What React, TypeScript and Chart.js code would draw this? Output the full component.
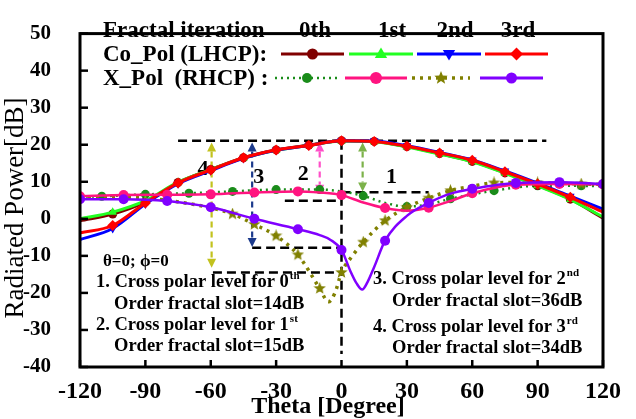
import React, { useEffect, useRef } from "react";
import { Chart, registerables } from "chart.js";

Chart.register(...registerables);

const FONT = '"Liberation Serif", "DejaVu Serif", "Times New Roman", serif';

// ---------- axis ranges ----------
const thetaMin = -120;
const thetaMax = 120;
const thetaStep = 30;
const dbMin = -40;
const dbMax = 50;
const dbStep = 10;

// ---------- Co-pol (LHCP) ----------
const coTheta = [-120, -105, -90, -75, -60, -45, -30, -15, 0, 15, 30, 45, 60, 75, 90, 105, 120];
const co0th = [-0.5, 1.3, 4.6, 9.8, 13.3, 16.5, 18.6, 19.9, 21.1, 20.9, 19.5, 17.6, 15.5, 12.4, 9.0, 5.3, 0.2];
const co1st = [0.0, 1.8, 4.9, 9.9, 13.3, 16.4, 18.5, 19.8, 21.0, 20.8, 19.4, 17.5, 15.4, 12.3, 8.9, 5.2, 0.5];
const co2nd = [-5.6, -2.6, 4.0, 9.5, 13.0, 16.3, 18.5, 19.8, 21.1, 21.0, 19.7, 17.9, 15.9, 12.9, 9.6, 6.1, 2.6];
const co3rd = [-3.8, -1.8, 4.3, 9.7, 13.2, 16.5, 18.6, 19.8, 21.1, 20.9, 19.6, 17.8, 15.8, 12.7, 9.4, 5.8, 1.8];
const coMarkTheta = [-105, -90, -75, -60, -45, -30, -15, 0, 15, 30, 45, 60, 75, 90, 105];

// ---------- X-pol (RHCP) ----------
const xp0Theta = [-120, -110, -90, -70, -50, -30, -10, 0, 10, 20, 30, 40, 50, 70, 90, 110, 120];
const xp0Db = [6.0, 6.1, 6.6, 6.9, 7.4, 7.9, 7.9, 7.4, 6.2, 4.3, 3.3, 3.9, 5.4, 7.6, 8.9, 8.9, 8.8];
const xp0MarkTheta = [-110, -90, -70, -50, -30, -10, 10, 30, 50, 70, 90, 110];

const xp1Theta = [-120, -100, -80, -60, -40, -20, -10, 0, 10, 20, 30, 40, 50, 60, 80, 100, 120];
const xp1Db = [6.1, 6.4, 6.5, 6.6, 7.1, 7.4, 7.1, 6.4, 4.4, 2.9, 2.2, 3.0, 4.8, 6.9, 9.2, 9.4, 9.3];
const xp1MarkTheta = [-120, -100, -80, -60, -40, -20, 0, 20, 40, 60, 80, 100, 120];

const xp2Theta = [-120, -110, -100, -90, -80, -70, -60, -50, -40, -30, -20, -10, -6, -3, 0, 5, 10, 20, 30, 40, 50, 60, 70, 80, 90, 100, 110, 120];
const xp2Db = [5.8, 5.8, 5.8, 5.6, 5.0, 4.1, 3.0, 1.3, -1.5, -4.6, -9.7, -18.8, -22.4, -20.0, -14.5, -10.0, -6.3, -0.5, 3.1, 5.6, 7.6, 8.8, 9.7, 9.8, 9.7, 9.6, 9.4, 9.3];
const xp2MarkTheta = [-50, -40, -30, -20, -10, 0, 10, 20, 30, 40, 50, 70, 90, 110];

const xp3Theta = [-120, -100, -80, -60, -40, -20, -10, -5, 0, 4, 7, 9.5, 12, 15, 20, 30, 40, 50, 60, 80, 100, 120];
const xp3Db = [5.3, 5.3, 4.8, 3.1, 0.0, -2.8, -4.4, -5.7, -8.4, -14.0, -17.5, -19.1, -17.0, -13.0, -5.9, 0.8, 4.3, 6.8, 8.1, 9.7, 9.9, 9.4];
const xp3MarkTheta = [-120, -100, -80, -60, -40, -20, 0, 20, 40, 60, 80, 100, 120];

// ---------- annotation values (data units) ----------
const hLineDb = [21.1, 7.2, 4.9, -7.8, -14.5];
const hLineFrom = [-75, 0, -26, -41, -59];
const hLineTo = [94, 40, 0, 0, 0];
const vLineTheta = 0;
const vLineTop = 21.1;
const vLineBottom = -36.5;
const arrowTheta = [9.7, -10, -41, -59.6];
const arrowTop = [20.6, 20.6, 20.6, 20.6];
const arrowBottom = [7.4, 6.8, -7.6, -13.2];
const arrowColor = ["#7cb24a", "#ff4fc8", "#1c3a8c", "#c2c21e"];
const arrowLabel = ["1", "2", "3", "4"];
const labelTheta = [23, -17.5, -38, -63.5];
const labelDb = [11.3, 12.0, 11.2, 13.3];

// ---------- texts ----------
const legendHeader = "Fractal iteration";
const legendIter = ["0th", "1st", "2nd", "3rd"];
const legendCo = "Co_Pol (LHCP):";
const legendX = "X_Pol  (RHCP) :";
const angleNote = "θ=0; ϕ=0";
type Part = [string, boolean];
const notes: { x: number; y: number; parts: Part[] }[] = [
  { x: 96, y: 282, parts: [["1. Cross polar level for 0", false], ["th", true]] },
  { x: 114, y: 304, parts: [["Order fractal slot=14dB", false]] },
  { x: 96, y: 325, parts: [["2. Cross polar level for 1", false], ["st", true]] },
  { x: 114, y: 346, parts: [["Order fractal slot=15dB", false]] },
  { x: 373, y: 279, parts: [["3. Cross polar level for 2", false], ["nd", true]] },
  { x: 392, y: 301, parts: [["Order fractal slot=36dB", false]] },
  { x: 373, y: 327, parts: [["4. Cross polar level for 3", false], ["rd", true]] },
  { x: 392, y: 348, parts: [["Order fractal slot=34dB", false]] },
];

function pts(t: number[], v: number[]) {
  return t.map((x, i) => ({ x, y: v[i] }));
}

function starPath(g: CanvasRenderingContext2D, cx: number, cy: number, R: number, r: number) {
  g.beginPath();
  for (let i = 0; i < 10; i++) {
    const a = -Math.PI / 2 + (i * Math.PI) / 5;
    const rad = i % 2 === 0 ? R : r;
    g.lineTo(cx + rad * Math.cos(a), cy + rad * Math.sin(a));
  }
  g.closePath();
}

function makeStar(color: string, size: number) {
  const c = document.createElement("canvas");
  c.width = size;
  c.height = size;
  const g = c.getContext("2d")!;
  starPath(g, size / 2, size / 2, size / 2, size / 4.6);
  g.fillStyle = color;
  g.fill();
  return c;
}

function drawMarker(g: CanvasRenderingContext2D, kind: string, x: number, y: number, r: number, color: string) {
  g.save();
  g.fillStyle = color;
  g.beginPath();
  if (kind === "circle") g.arc(x, y, r, 0, Math.PI * 2);
  else if (kind === "triangle") {
    g.moveTo(x, y - r);
    g.lineTo(x + r * 0.95, y + r * 0.6);
    g.lineTo(x - r * 0.95, y + r * 0.6);
    g.closePath();
  } else if (kind === "triangleDown") {
    g.moveTo(x, y + r);
    g.lineTo(x + r * 0.95, y - r * 0.6);
    g.lineTo(x - r * 0.95, y - r * 0.6);
    g.closePath();
  } else if (kind === "diamond") {
    g.moveTo(x, y - r);
    g.lineTo(x + r, y);
    g.lineTo(x, y + r);
    g.lineTo(x - r, y);
    g.closePath();
  } else if (kind === "star") {
    starPath(g, x, y, r, r / 2.3);
  }
  g.fill();
  g.restore();
}

function drawRich(g: CanvasRenderingContext2D, x: number, y: number, parts: Part[], size: number) {
  let cx = x;
  g.textAlign = "left";
  g.textBaseline = "middle";
  for (const [t, sup] of parts) {
    if (sup) {
      g.font = `bold ${Math.round(size * 0.62)}px ${FONT}`;
      g.fillText(t, cx + 1, y - size * 0.33);
      cx += g.measureText(t).width + 1;
    } else {
      g.font = `bold ${size}px ${FONT}`;
      g.fillText(t, cx, y);
      cx += g.measureText(t).width;
    }
  }
}

export default function App() {
  const ref = useRef<HTMLCanvasElement | null>(null);

  useEffect(() => {
    if (!ref.current) return;
    const star = makeStar("#808000", 13);
    const markR = (set: number[], r: number) => (c: any) => (c.raw && set.includes(c.raw.x) ? r : 0);

    const overlay = {
      id: "overlay",
      beforeDatasetsDraw(chart: any) {
        const g: CanvasRenderingContext2D = chart.ctx;
        const xs = chart.scales.x;
        const ys = chart.scales.y;
        const X = (v: number) => xs.getPixelForValue(v);
        const Y = (v: number) => ys.getPixelForValue(v);
        g.save();
        g.strokeStyle = "#000";
        g.lineWidth = 2.5;
        g.setLineDash([9, 5]);
        for (let i = 0; i < hLineDb.length; i++) {
          g.beginPath();
          g.moveTo(X(hLineFrom[i]), Y(hLineDb[i]));
          g.lineTo(X(hLineTo[i]), Y(hLineDb[i]));
          g.stroke();
        }
        g.beginPath();
        g.moveTo(X(vLineTheta), Y(vLineTop));
        g.lineTo(X(vLineTheta), Y(vLineBottom));
        g.stroke();
        for (let i = 0; i < arrowTheta.length; i++) {
          const x = X(arrowTheta[i]);
          const y1 = Y(arrowTop[i]);
          const y2 = Y(arrowBottom[i]);
          const head = 9;
          g.strokeStyle = arrowColor[i];
          g.fillStyle = arrowColor[i];
          g.lineWidth = 2.2;
          g.setLineDash([6, 4]);
          g.beginPath();
          g.moveTo(x, y1 + head);
          g.lineTo(x, y2 - head);
          g.stroke();
          g.setLineDash([]);
          g.beginPath();
          g.moveTo(x, y1);
          g.lineTo(x - 4.5, y1 + head);
          g.lineTo(x + 4.5, y1 + head);
          g.closePath();
          g.fill();
          g.beginPath();
          g.moveTo(x, y2);
          g.lineTo(x - 4.5, y2 - head);
          g.lineTo(x + 4.5, y2 - head);
          g.closePath();
          g.fill();
        }
        g.setLineDash([]);
        g.fillStyle = "#000";
        g.font = `bold 22px ${FONT}`;
        g.textAlign = "center";
        g.textBaseline = "middle";
        for (let i = 0; i < arrowLabel.length; i++) {
          g.fillText(arrowLabel[i], X(labelTheta[i]), Y(labelDb[i]));
        }
        g.restore();
      },
      afterDraw(chart: any) {
        const g: CanvasRenderingContext2D = chart.ctx;
        const a = chart.chartArea;
        const xs = chart.scales.x;
        const ys = chart.scales.y;
        g.save();
        g.strokeStyle = "#000";
        g.lineWidth = 3;
        g.strokeRect(a.left, a.top, a.right - a.left, a.bottom - a.top);
        g.lineWidth = 2.5;
        for (let v = thetaMin; v <= thetaMax; v += thetaStep) {
          const x = xs.getPixelForValue(v);
          g.beginPath();
          g.moveTo(x, a.bottom);
          g.lineTo(x, a.bottom - 7);
          g.stroke();
        }
        for (let v = dbMin; v <= dbMax; v += dbStep) {
          const y = ys.getPixelForValue(v);
          g.beginPath();
          g.moveTo(a.left, y);
          g.lineTo(a.left + 8, y);
          g.stroke();
        }
        g.fillStyle = "#000";
        g.textAlign = "center";
        g.textBaseline = "middle";
        g.font = `bold 24px ${FONT}`;
        g.fillText("Theta [Degree]", 328, 407);
        g.save();
        g.translate(16, 208);
        g.rotate(-Math.PI / 2);
        g.font = `27px ${FONT}`;
        g.fillText("Radiated Power[dB]", 0, 0);
        g.restore();

        g.font = `bold 23px ${FONT}`;
        g.textAlign = "left";
        g.fillText(legendHeader, 103, 31);
        g.fillText(legendCo, 103, 55);
        g.fillText(legendX, 103, 79);
        g.textAlign = "center";
        const iterX = [315, 392, 455, 518];
        legendIter.forEach((t, i) => g.fillText(t, iterX[i], 31));

        const coSamples = [
          { x0: 281, x1: 344, c: "#800000", m: "circle", r: 5.5 },
          { x0: 349, x1: 413, c: "#22ff22", m: "triangle", r: 6.5 },
          { x0: 417, x1: 481, c: "#0000ff", m: "triangleDown", r: 6.5 },
          { x0: 485, x1: 548, c: "#ff0000", m: "diamond", r: 6.5 },
        ];
        for (const s of coSamples) {
          g.strokeStyle = s.c;
          g.lineWidth = 3;
          g.setLineDash([]);
          g.beginPath();
          g.moveTo(s.x0, 54);
          g.lineTo(s.x1, 54);
          g.stroke();
          drawMarker(g, s.m, (s.x0 + s.x1) / 2, 54, s.r, s.c);
        }
        const xSamples = [
          { x0: 275, x1: 339, c: "#1a8c1a", m: "circle", r: 5, dash: [2, 4], w: 2.5 },
          { x0: 345, x1: 407, c: "#ff1480", m: "circle", r: 6, dash: [], w: 3 },
          { x0: 412, x1: 470, c: "#808000", m: "star", r: 7, dash: [3, 5], w: 3.5 },
          { x0: 480, x1: 543, c: "#8000ff", m: "circle", r: 5.5, dash: [], w: 3 },
        ];
        for (const s of xSamples) {
          g.strokeStyle = s.c;
          g.lineWidth = s.w;
          g.setLineDash(s.dash);
          g.beginPath();
          g.moveTo(s.x0, 78);
          g.lineTo(s.x1, 78);
          g.stroke();
          g.setLineDash([]);
          drawMarker(g, s.m, (s.x0 + s.x1) / 2, 78, s.r, s.c);
        }

        g.fillStyle = "#000";
        g.font = `bold 17px ${FONT}`;
        g.textAlign = "left";
        g.textBaseline = "middle";
        g.fillText(angleNote, 103, 262);
        for (const n of notes) drawRich(g, n.x, n.y, n.parts, 18.5);
        g.restore();
      },
    };

    const chart = new Chart(ref.current, {
      type: "line",
      data: {
        datasets: [
          {
            data: pts(xp3Theta, xp3Db),
            borderColor: "#8000ff",
            backgroundColor: "#8000ff",
            borderWidth: 2.5,
            pointStyle: "circle",
            pointRadius: markR(xp3MarkTheta, 5),
            pointBorderWidth: 0,
          },
          {
            data: pts(xp1Theta, xp1Db),
            borderColor: "#ff1480",
            backgroundColor: "#ff1480",
            borderWidth: 2.5,
            pointStyle: "circle",
            pointRadius: markR(xp1MarkTheta, 5),
            pointBorderWidth: 0,
          },
          {
            data: pts(coTheta, co3rd),
            borderColor: "#ff0000",
            backgroundColor: "#ff0000",
            borderWidth: 3,
            pointStyle: "rectRot",
            pointRadius: markR(coMarkTheta, 5.5),
            pointBorderWidth: 0,
          },
          {
            data: pts(coTheta, co2nd),
            borderColor: "#0000ff",
            backgroundColor: "#0000ff",
            borderWidth: 3,
            pointStyle: "triangle",
            pointRotation: 180,
            pointRadius: markR(coMarkTheta, 5),
            pointBorderWidth: 0,
          },
          {
            data: pts(coTheta, co1st),
            borderColor: "#22ff22",
            backgroundColor: "#22ff22",
            borderWidth: 3,
            pointStyle: "triangle",
            pointRadius: markR(coMarkTheta, 5),
            pointBorderWidth: 0,
          },
          {
            data: pts(coTheta, co0th),
            borderColor: "#800000",
            backgroundColor: "#800000",
            borderWidth: 3,
            pointStyle: "circle",
            pointRadius: markR(coMarkTheta, 4.5),
            pointBorderWidth: 0,
          },
          {
            data: pts(xp2Theta, xp2Db),
            borderColor: "#808000",
            backgroundColor: "#808000",
            borderWidth: 3.5,
            borderDash: [3, 5],
            pointStyle: (c: any) => (c.raw && xp2MarkTheta.includes(c.raw.x) ? star : "circle"),
            pointRadius: markR(xp2MarkTheta, 6),
            pointBorderWidth: 0,
          },
          {
            data: pts(xp0Theta, xp0Db),
            borderColor: "#1a8c1a",
            backgroundColor: "#1a8c1a",
            borderWidth: 2.5,
            borderDash: [2, 4],
            pointStyle: "circle",
            pointRadius: markR(xp0MarkTheta, 4.5),
            pointBorderWidth: 0,
          },
        ],
      },
      options: {
        animation: false,
        responsive: false,
        maintainAspectRatio: false,
        layout: { padding: { left: 0, right: 33, top: 14, bottom: 0 } },
        elements: { line: { cubicInterpolationMode: "monotone", fill: false } },
        plugins: {
          legend: { display: false },
          tooltip: { enabled: false },
          title: { display: false },
        },
        scales: {
          x: {
            type: "linear",
            min: thetaMin,
            max: thetaMax,
            ticks: {
              stepSize: thetaStep,
              color: "#000",
              font: { family: FONT, size: 24, weight: "bold" },
              padding: 2,
              maxRotation: 0,
              autoSkip: false,
            },
            grid: { display: false },
            border: { display: false },
            afterFit: (s: any) => {
              s.height = 52;
            },
          },
          y: {
            type: "linear",
            min: dbMin,
            max: dbMax,
            ticks: {
              stepSize: dbStep,
              color: "#000",
              font: { family: FONT, size: 21, weight: "bold" },
              padding: 21,
              autoSkip: false,
            },
            grid: { display: false },
            border: { display: false },
            afterFit: (s: any) => {
              s.width = 80;
            },
          },
        },
      } as any,
      plugins: [overlay],
    });
    return () => chart.destroy();
  }, []);

  return (
    <div style={{ position: "absolute", left: 0, top: 0, width: 636, height: 419, background: "#fff" }}>
      <canvas ref={ref} width={636} height={419} style={{ width: 636, height: 419 }} />
    </div>
  );
}
